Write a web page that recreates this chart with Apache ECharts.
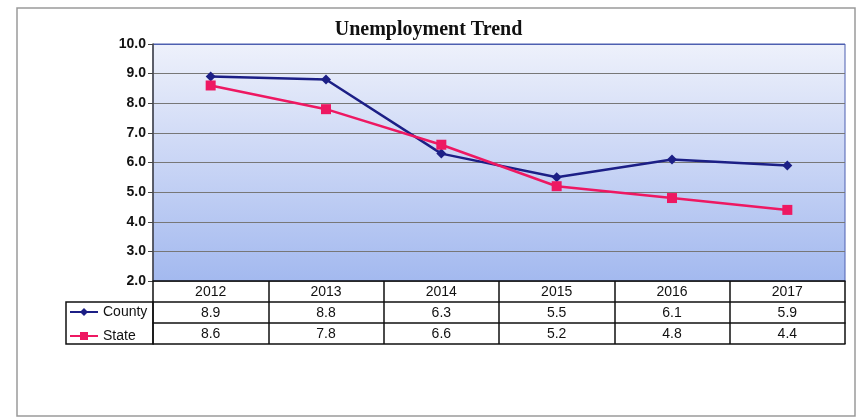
<!DOCTYPE html>
<html>
<head>
<meta charset="utf-8">
<script src="https://cdn.jsdelivr.net/npm/echarts@6/dist/echarts.min.js"></script>
<style>
  html, body { margin: 0; padding: 0; background: #fff; }
  #chart { width: 857px; height: 418px; }
</style>
</head>
<body>
<div id="chart"></div>
<script>
// chart data
const years = ['2012', '2013', '2014', '2015', '2016', '2017'];
const countyRate = [8.9, 8.8, 6.3, 5.5, 6.1, 5.9];
const stateRate = [8.6, 7.8, 6.6, 5.2, 4.8, 4.4];
const yTicks = { min: 2, max: 10, interval: 1 };

const chart = echarts.init(document.getElementById('chart'));

const font = 'Arial, "Liberation Sans", sans-serif';
const ROW = 21; // table row height

// one x axis per table row, the ticks make the column lines
const tableAxis = (data, offset, showTicks) => ({
  type: 'category',
  position: 'bottom',
  offset: offset,
  data: data,
  boundaryGap: true,
  axisLine: { show: true, lineStyle: { color: '#111', width: 1.5 } },
  axisTick: {
    show: showTicks,
    length: ROW,
    lineStyle: { color: '#111', width: 1.5 },
  },
  axisLabel: {
    show: showTicks,
    margin: 4,
    color: '#111',
    fontFamily: font,
    fontSize: 14,
    interval: 0,
  },
  splitLine: { show: false },
});

const option = {
  animation: false,
  backgroundColor: '#fff',
  title: {
    text: 'Unemployment Trend',
    left: 'center',
    top: 20,
    padding: 0,
    textStyle: {
      fontFamily: '"Liberation Serif", "Times New Roman", serif',
      fontWeight: 'bold',
      fontSize: 20,
      color: '#111',
    },
  },
  grid: {
    left: 153,
    right: 12,
    top: 44,
    bottom: 137,
    show: true,
    borderColor: '#4d5fb0',
    borderWidth: 1,
    backgroundColor: new echarts.graphic.LinearGradient(0, 0, 0, 1, [
      { offset: 0, color: '#eef1fb' },
      { offset: 0.5, color: '#c9d5f5' },
      { offset: 1, color: '#a3b9ef' },
    ]),
  },
  legend: {
    orient: 'vertical',
    left: 69,
    top: 305,
    padding: 0,
    itemWidth: 28,
    itemHeight: 10,
    itemGap: 10,
    selectedMode: false,
    textStyle: { fontFamily: font, fontSize: 14, color: '#111' },
    data: ['County', 'State'],
  },
  xAxis: [
    tableAxis(years, 0, true),
    tableAxis(countyRate.map((v) => v.toFixed(1)), ROW, true),
    tableAxis(stateRate.map((v) => v.toFixed(1)), ROW * 2, true),
    tableAxis(years.map(() => ''), ROW * 3, false),
  ],
  yAxis: {
    type: 'value',
    min: yTicks.min,
    max: yTicks.max,
    interval: yTicks.interval,
    axisLine: { show: true, lineStyle: { color: '#444', width: 1.5 } },
    axisTick: { show: true, length: 5, lineStyle: { color: '#444' } },
    axisLabel: {
      formatter: (v) => v.toFixed(1),
      margin: 7,
      color: '#111',
      fontFamily: font,
      fontWeight: 'bold',
      fontSize: 14,
    },
    splitLine: {
      show: true,
      lineStyle: {
        color: ['#777', '#777', '#777', '#777', '#777', '#777', '#777', '#777', '#4d5fb0'],
        width: 1,
      },
    },
  },
  series: [
    {
      name: 'County',
      type: 'line',
      data: countyRate,
      symbol: 'diamond',
      symbolSize: 10,
      color: '#1c1f86',
      lineStyle: { width: 2.5 },
    },
    {
      name: 'State',
      type: 'line',
      data: stateRate,
      symbol: 'rect',
      symbolSize: 10,
      color: '#ee1862',
      lineStyle: { width: 2.5 },
    },
  ],
  graphic: [
    // outer page frame
    {
      type: 'rect',
      silent: true,
      shape: { x: 17, y: 8, width: 838, height: 408 },
      style: { fill: 'none', stroke: '#9a9a9a', lineWidth: 1.5 },
    },
    // legend cells of the data table
    {
      type: 'rect',
      silent: true,
      shape: { x: 66, y: 281 + ROW, width: 87, height: ROW * 2 },
      style: { fill: 'none', stroke: '#111', lineWidth: 1.5 },
    },
  ],
};

chart.setOption(option);
</script>
</body>
</html>
